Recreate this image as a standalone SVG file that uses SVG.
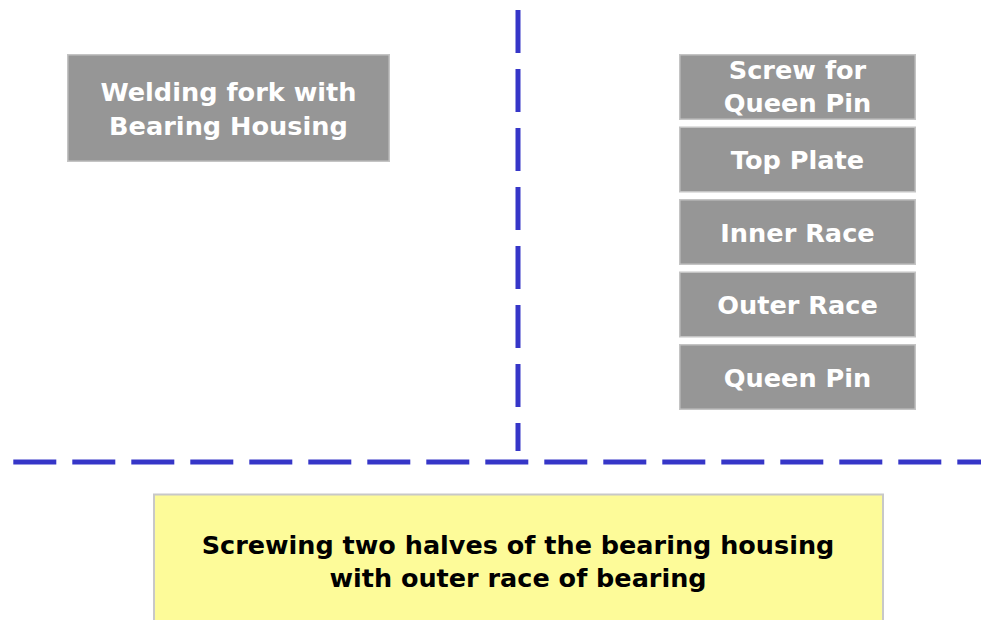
<svg xmlns="http://www.w3.org/2000/svg" width="981" height="620" viewBox="0 0 981 620">
  <style>
    .part { fill: #969696; stroke: #c4c4c4; stroke-width: 1.5; }
    .plabel { fill: #ffffff; font-family: "DejaVu Sans", Verdana, sans-serif; font-weight: bold; font-size: 25.6px; text-anchor: middle; }
    .step { fill: #fdfb99; stroke: #c8c8c8; stroke-width: 2; }
    .slabel { fill: #000000; font-family: "DejaVu Sans", Verdana, sans-serif; font-weight: bold; font-size: 25.5px; text-anchor: middle; }
    .divider { stroke: #3636c8; stroke-width: 5; stroke-dasharray: 43 16; fill: none; }
  </style>
  <rect width="981" height="620" fill="#ffffff"/>
  <g id="connectors">
    <line class="divider" x1="518" y1="10" x2="518" y2="451"/>
    <line class="divider" x1="13.3" y1="462" x2="981" y2="462"/>
  </g>
  <g id="welding-fork">
    <rect class="part" x="67.75" y="54.75" width="321.5" height="106.5"/>
    <text class="plabel" x="228.5" y="101">Welding fork with</text>
    <text class="plabel" x="228.5" y="135">Bearing Housing</text>
  </g>
  <g id="screw-queen-pin">
    <rect class="part" x="679.75" y="54.75" width="235.5" height="64.5"/>
    <text class="plabel" x="797.5" y="79">Screw for</text>
    <text class="plabel" x="797.5" y="112">Queen Pin</text>
  </g>
  <g id="top-plate">
    <rect class="part" x="679.75" y="127.25" width="235.5" height="64.5"/>
    <text class="plabel" x="797.5" y="169">Top Plate</text>
  </g>
  <g id="inner-race">
    <rect class="part" x="679.75" y="199.75" width="235.5" height="64.5"/>
    <text class="plabel" x="797.5" y="242">Inner Race</text>
  </g>
  <g id="outer-race">
    <rect class="part" x="679.75" y="272.25" width="235.5" height="64.5"/>
    <text class="plabel" x="797.5" y="314">Outer Race</text>
  </g>
  <g id="queen-pin">
    <rect class="part" x="679.75" y="344.75" width="235.5" height="64.5"/>
    <text class="plabel" x="797.5" y="387">Queen Pin</text>
  </g>
  <g id="screwing-step">
    <rect class="step" x="154" y="494.5" width="729" height="140"/>
    <text class="slabel" x="518" y="554">Screwing two halves of the bearing housing</text>
    <text class="slabel" x="518" y="587">with outer race of bearing</text>
  </g>
</svg>
